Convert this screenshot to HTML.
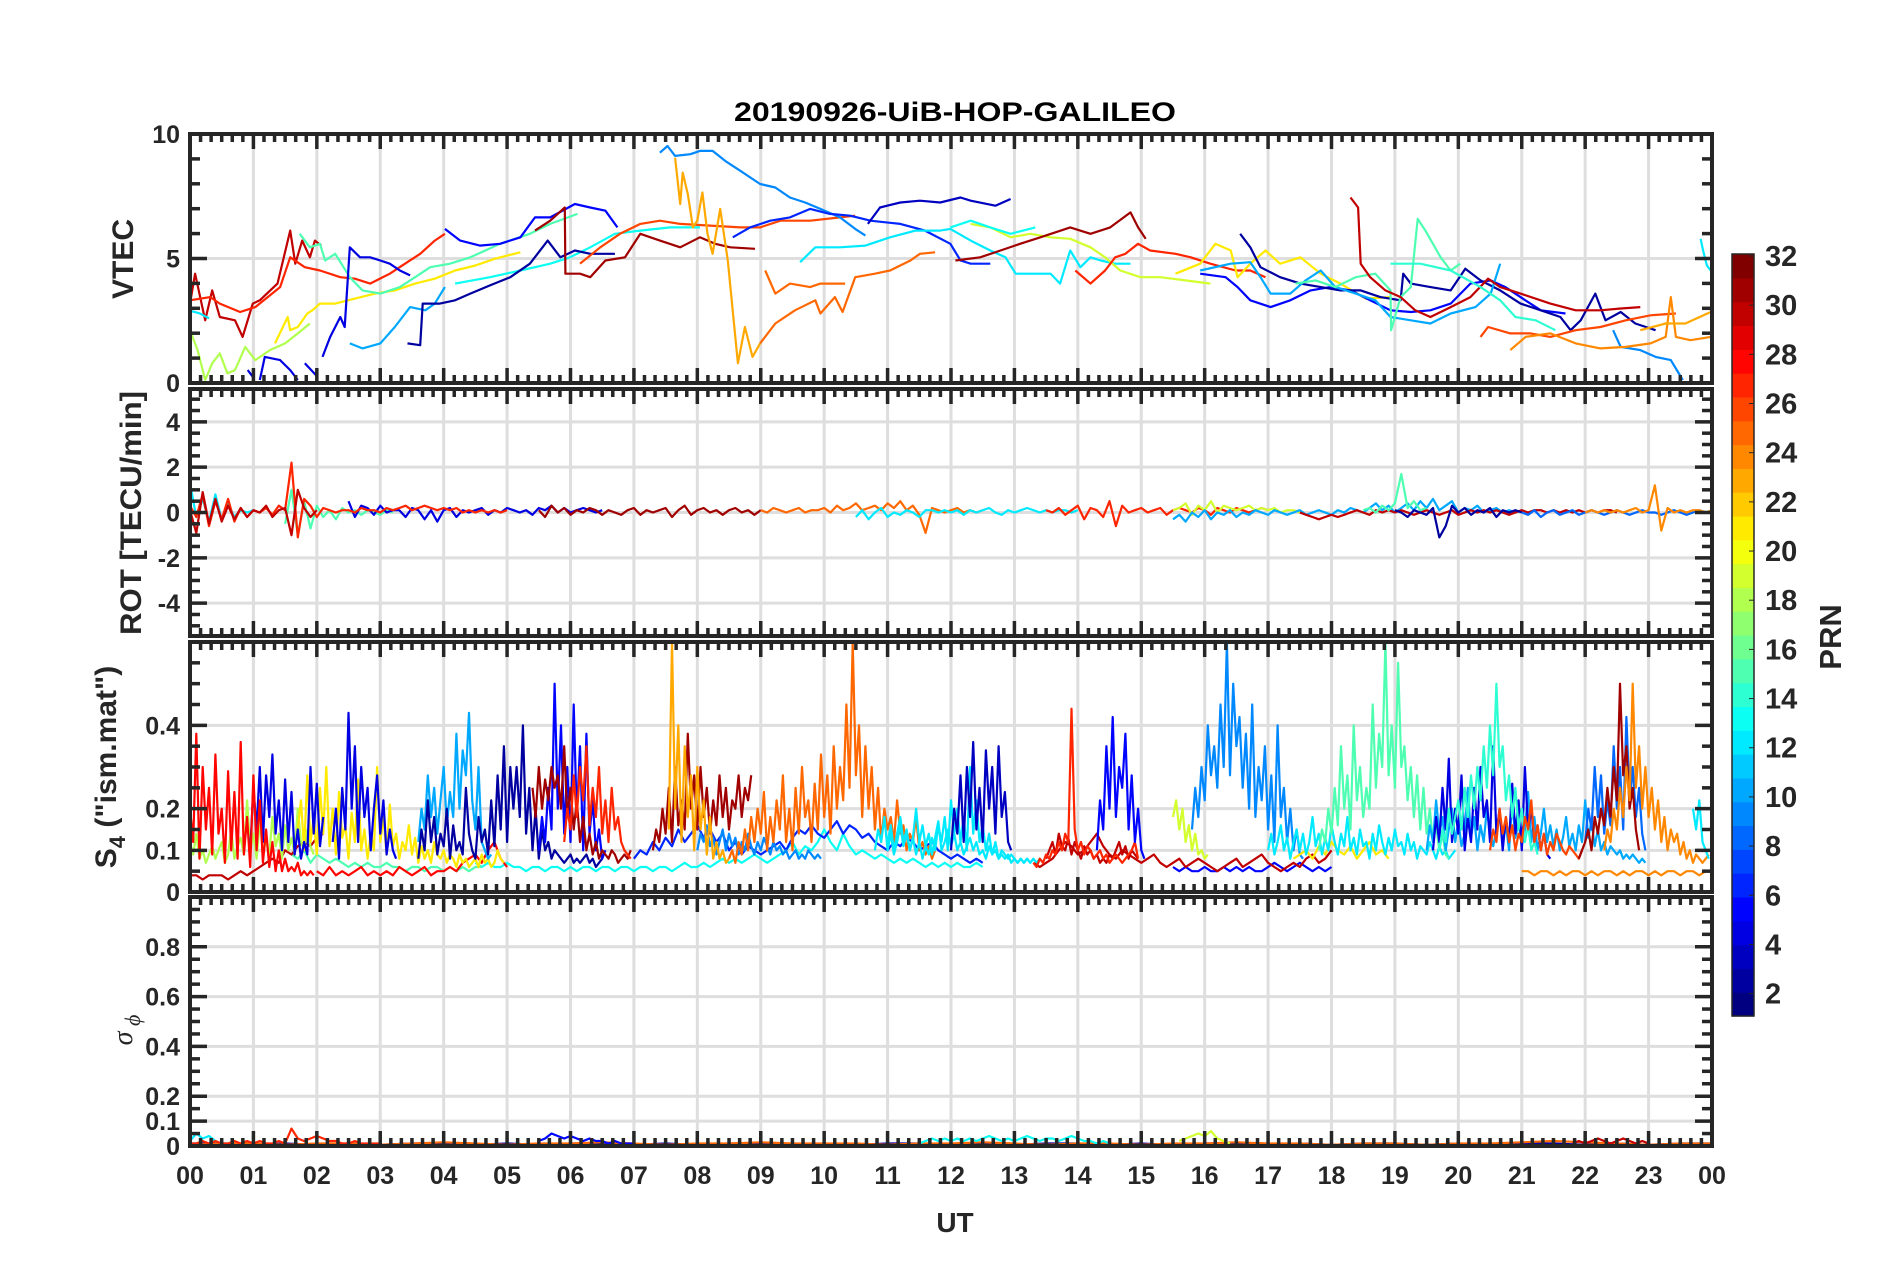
<!DOCTYPE html>
<html><head><meta charset="utf-8"><title>20190926-UiB-HOP-GALILEO</title>
<style>
html,body{margin:0;padding:0;background:#fff;}
svg{display:block;font-family:"Liberation Sans",Arial,sans-serif;}
</style></head>
<body>
<svg id="fig" width="1902" height="1272" viewBox="0 0 1902 1272" xmlns="http://www.w3.org/2000/svg">
<rect x="0" y="0" width="1902" height="1272" fill="#fff"/>
<text x="955" y="121" text-anchor="middle" font-size="27" font-weight="bold" fill="#000" textLength="442" lengthAdjust="spacingAndGlyphs">20190926-UiB-HOP-GALILEO</text>
<g id="panels"></g>
<text transform="translate(133,259) rotate(-90)" text-anchor="middle" font-size="30" font-weight="bold" fill="#262626">VTEC</text>
<text transform="translate(141,513) rotate(-90)" text-anchor="middle" font-size="30" font-weight="bold" fill="#262626" textLength="244" lengthAdjust="spacingAndGlyphs">ROT [TECU/min]</text>
<text transform="translate(116,767) rotate(-90)" text-anchor="middle" font-size="30" font-weight="bold" fill="#262626">S<tspan font-size="22" dy="9">4</tspan><tspan dy="-9"> ("ism.mat")</tspan></text>
<text transform="translate(132,1030) rotate(-90)" text-anchor="middle" font-size="28" font-style="italic" font-family="Liberation Serif, serif" fill="#262626">σ<tspan font-size="22" dy="8"> ϕ</tspan></text>
<text x="955" y="1232" text-anchor="middle" font-size="28" font-weight="bold" fill="#262626">UT</text>
<g id="colorbar"></g>
<text transform="translate(1841,637) rotate(-90)" text-anchor="middle" font-size="31" font-weight="bold" fill="#262626">PRN</text>
</svg>
<script>
// ---------- VTEC tracks (hours, TECU) ----------
const tec30aT=[0,.08,.24,.35,.47,.71,.83,.99,1.10,1.38,1.58,1.66,1.77,1.89,1.97,2.07];
const tec30aV=[3.19,4.39,2.52,3.72,2.65,2.52,1.85,3.19,3.32,3.99,6.12,4.79,5.72,5.05,5.72,5.52];
const tec27aT=[0,.32,.47,.79,1.03,1.42,1.58,1.81,2.05,2.37,2.60,2.84,3.15,3.39,3.63,3.86,4.02];
const tec27aV=[3.32,3.45,3.19,2.85,3.05,3.85,5.05,4.65,4.52,4.25,4.19,3.99,4.39,4.79,5.19,5.72,5.99];
const tec12aT=[0,.15,.3];
const tec12aV=[2.9,2.8,2.6];
const tec18T=[0,.12,.24,.35,.47,.59,.71,.87,1.03,1.26,1.5,1.70,1.89];
const tec18V=[2.12,1.32,.12,.79,1.19,.39,.52,1.45,.92,1.32,1.59,1.99,2.39];
const tec21aT=[1.34,1.54,1.58,1.70,1.85,1.93,2.05,2.29,2.60,2.92,3.23,3.55,3.86,4.18,4.50,4.81,5.21];
const tec21aV=[1.59,2.65,2.12,2.25,2.79,2.92,3.19,3.19,3.39,3.59,3.72,3.99,4.19,4.52,4.72,4.99,5.25];
const tec15aT=[1.73,1.89,2.05,2.13,2.29,2.52,2.72,3.00,3.31,3.55,3.79,4.10,4.42,4.89,5.36,5.68,6.11];
const tec15aV=[5.99,5.45,5.59,4.92,5.19,4.25,3.72,3.59,3.85,4.25,4.65,4.79,5.05,5.59,5.99,6.39,6.79];
const tec4T=[.91,.99,1.0,1.10,1.18,1.42,1.58,1.70,1.75,1.81,2.01,2.05,2.09,2.21,2.37,2.44,2.52,2.68,2.84,3.00,3.15,3.31,3.47];
const tec4V=[.52,.25,null,.12,1.05,.92,.52,.12,null,.79,.25,null,1.05,1.85,2.65,2.25,5.45,5.05,5.05,4.92,4.79,4.52,4.32];
const tec5aT=[4.02,4.26,4.57,4.89,5.21,5.44,5.68,6.07,6.31,6.55,6.74];
const tec5aV=[6.19,5.72,5.52,5.59,5.85,6.65,6.65,7.19,7.05,6.92,6.25];
const tec10aT=[2.52,2.72,3.00,3.23,3.47,3.71,3.86,4.02];
const tec10aV=[1.59,1.39,1.59,2.25,3.05,2.92,3.19,3.85];
const tec13aT=[4.18,4.73,5.21,5.68,5.99,6.31,6.70,7.10,7.57,8.04];
const tec13aV=[3.99,4.25,4.52,4.79,5.05,5.45,5.99,6.12,6.25,6.25];
const tec2aT=[3.43,3.63,3.67,3.94,4.18,4.42,4.73,5.05,5.36,5.64,5.84,6.07,6.31,6.70];
const tec2aV=[1.59,1.52,3.19,3.19,3.32,3.59,3.92,4.25,4.79,5.72,5.05,5.32,5.19,5.19];
const tec31aT=[5.44,5.68,5.91,5.92,6.15,6.31,6.55,6.86,7.10,7.41,7.73,8.04,8.28,8.52,8.91];
const tec31aV=[6.12,6.52,7.05,4.39,4.39,4.25,4.92,5.05,5.99,5.72,5.45,5.85,5.59,5.45,5.39];
const tec26aT=[6.15,6.47,6.78,7.10,7.41,7.73,8.20,8.68,8.99,9.31,9.78,10.25,10.49];
const tec26aV=[4.79,5.45,5.99,6.39,6.52,6.39,6.32,6.25,6.25,6.52,6.52,6.65,6.72];
const tec9aT=[7.41,7.53,7.65,7.89,8.04,8.24,8.44,8.68,8.99,9.23,9.46,9.70,9.94,10.25,10.49,10.65];
const tec9aV=[9.25,9.52,9.12,9.19,9.32,9.32,8.92,8.52,7.99,7.85,7.45,7.25,6.99,6.65,6.19,5.92];
const tec9bT=[22.44,22.56,22.87,23.11,23.35,23.54];
const tec9bV=[2.12,1.45,1.32,1.05,.92,.12];
const tec23aT=[7.65,7.73,7.77,7.85,7.93,8.00,8.08,8.16,8.24,8.36,8.48,8.64,8.75,8.87,8.99];
const tec23aV=[9.05,7.19,8.45,7.59,6.25,6.52,7.65,5.99,5.19,6.99,4.92,.79,2.25,1.05,1.59];
const tec25aT=[9.07,9.23,9.46,9.78,9.94,10.33];
const tec25aV=[4.52,3.59,3.99,3.85,3.99,3.99];
const tec25bT=[8.99,9.23,9.54,9.86,9.94,10.17,10.29,10.49,10.80,11.04,11.36,11.51,11.75];
const tec25bV=[1.59,2.39,2.92,3.32,2.79,3.45,2.85,4.25,4.39,4.52,4.92,5.19,5.25];
const tec6T=[8.56,8.83,9.15,9.46,9.78,10.09,10.41,10.73,11.20,11.59,11.99,12.15,12.31,12.62];
const tec6V=[5.85,6.25,6.52,6.65,6.99,6.79,6.72,6.52,6.39,6.12,5.59,4.92,4.79,4.79];
const tec3T=[10.69,10.88,11.20,11.51,11.83,12.15,12.31,12.70,12.94];
const tec3V=[6.39,7.05,7.25,7.32,7.25,7.45,7.32,7.12,7.39];
const tec12bT=[9.62,9.86,10.25,10.65,11.04,11.44,11.83,11.99,12.31,12.62,12.86,13.02,13.25,13.57,13.72,13.88,14.04,14.20,14.36,14.59,14.83];
const tec12bV=[4.85,5.45,5.45,5.52,5.85,6.12,6.12,6.19,5.72,5.32,5.05,4.39,4.39,4.39,3.99,5.32,4.65,5.05,4.92,4.79,4.79];
const tec12cT=[23.82,23.86,23.92,23.98];
const tec12cV=[5.79,5.32,4.72,4.52];
const tec19T=[12.31,12.62,12.94,13.25,13.57,13.88,14.20,14.43,14.67,14.99,15.30,15.70,16.09];
const tec19V=[6.39,6.25,5.85,5.99,5.85,5.79,5.45,5.05,4.52,4.25,4.25,4.12,3.99];
const tec13bT=[11.99,12.31,12.62,12.94,13.33];
const tec13bV=[6.25,6.52,6.25,5.99,6.25];
const tec31bT=[12.07,12.46,12.78,13.09,13.41,13.88,14.20,14.51,14.83,14.95,15.07];
const tec31bV=[4.92,5.05,5.32,5.59,5.85,6.25,5.99,6.25,6.85,6.25,5.79];
const tec27bT=[13.96,14.20,14.43,14.59,14.75,14.95,15.14,15.54,15.78,16.09,16.49,16.72,16.96];
const tec27bV=[4.52,3.99,4.52,5.05,5.19,5.59,5.32,5.19,5.05,4.79,4.52,4.52,4.25];
const tec21bT=[15.54,15.93,16.17,16.41,16.52,16.72,16.96,17.19,17.51,17.83,18.14,18.54,18.93];
const tec21bV=[4.39,4.79,5.59,5.32,4.25,4.79,5.32,4.79,5.05,4.39,3.99,3.39,3.45];
const tec5bT=[15.93,16.33,16.52,16.72,17.04,17.35,17.67,17.98,18.30,18.61,18.93,19.25,19.56,19.88,20.19,20.51,20.74,20.98,21.30,21.69];
const tec5bV=[4.39,4.25,3.85,3.32,3.05,3.32,3.72,3.85,3.72,3.32,2.92,2.85,2.92,3.19,3.99,4.12,3.85,3.45,2.92,2.79];
const tec2bT=[16.56,16.72,16.88,17.19,17.51,17.83,18.14,18.46,18.77,19.09,19.13,19.25,19.56,19.88,20.11,20.35,20.66,20.98,21.30,21.61,21.77,21.93,22.16,22.32,22.56,22.79,23.11];
const tec2bV=[5.99,5.45,4.65,4.25,3.99,3.85,3.72,3.72,3.45,3.32,4.39,3.99,3.85,3.72,4.59,4.12,3.72,3.19,2.92,2.65,2.12,2.52,3.59,2.52,2.85,2.39,2.12];
const tec10bT=[15.93,16.41,16.72,16.88,17.04,17.35,17.59,17.83,18.06,18.38,18.69,18.93,19.25,19.56,19.88,20.27,20.51,20.66];
const tec10bV=[4.52,4.79,4.85,4.25,3.59,3.59,4.12,4.52,3.85,3.59,3.32,2.65,2.52,2.39,2.79,3.05,3.59,4.79];
const tec15bT=[17.43,17.75,18.06,18.38,18.69,18.93,18.94,19.09,19.25,19.36,19.48,19.72,19.88,20.03];
const tec15bV=[3.99,4.12,3.85,4.25,4.39,3.72,2.12,3.45,3.85,6.59,6.12,5.05,4.52,4.79];
const tec30bT=[18.30,18.42,18.46,18.61,18.85,19.09,19.32,19.56,19.88,20.19,20.47,20.66,20.98,21.45,21.85,22.24,22.56,22.87];
const tec30bV=[7.45,7.05,4.79,4.25,3.72,3.45,2.92,2.65,3.05,3.45,4.19,3.85,3.59,3.19,2.92,2.92,2.99,3.05];
const tec14T=[18.93,19.40,19.88,20.35,20.66,20.90,21.22,21.53];
const tec14V=[4.79,4.79,4.52,3.85,3.32,2.65,2.52,2.12];
const tec26bT=[20.35,20.47,20.82,21.14,21.45,21.85,22.24,22.64,23.03,23.43];
const tec26bV=[1.85,2.25,1.99,1.99,1.85,2.12,2.25,2.52,2.72,2.79];
const tec24T=[20.82,21.06,21.45,21.85,22.24,22.64,23.03,23.27,23.35,23.43,23.66,23.98];
const tec24V=[1.32,1.85,1.99,1.59,1.39,1.45,1.59,1.85,3.45,1.85,1.72,1.85];
const tec23bT=[22.87,23.27,23.58,23.98];
const tec23bV=[2.12,2.39,2.39,2.85];
const tecTracks=[[30,tec30aT,tec30aV],[27,tec27aT,tec27aV],[12,tec12aT,tec12aV],[18,tec18T,tec18V],[21,tec21aT,tec21aV],[15,tec15aT,tec15aV],[4,tec4T,tec4V],[5,tec5aT,tec5aV],[10,tec10aT,tec10aV],[13,tec13aT,tec13aV],[2,tec2aT,tec2aV],[31,tec31aT,tec31aV],[26,tec26aT,tec26aV],[9,tec9aT,tec9aV],[9,tec9bT,tec9bV],[23,tec23aT,tec23aV],[25,tec25aT,tec25aV],[25,tec25bT,tec25bV],[6,tec6T,tec6V],[3,tec3T,tec3V],[12,tec12bT,tec12bV],[12,tec12cT,tec12cV],[19,tec19T,tec19V],[13,tec13bT,tec13bV],[31,tec31bT,tec31bV],[27,tec27bT,tec27bV],[21,tec21bT,tec21bV],[5,tec5bT,tec5bV],[2,tec2bT,tec2bV],[10,tec10bT,tec10bV],[15,tec15bT,tec15bV],[30,tec30bT,tec30bV],[14,tec14T,tec14V],[26,tec26bT,tec26bV],[24,tec24T,tec24V],[23,tec23bT,tec23bV]];

// ---------- ROT series: [prn, start hour] step 0.1 h, values TECU/min ----------
const rot27a=[0.3,-0.2,0.8,-0.6,0.5,-0.3,0.6,-0.4,0.2,-0.2,0.1,0.0,0.2,-0.1,0.3,0.1,2.2,-1.1,0.6,0.3,-0.2,0.2,0.1,0,0.1,0.1,0,0.2,0.1,0.1,0,0.2,0.1,0.2,0.3,0.1,0.2,0.3,0.2,0.1,0.2,0.1,0.2,0,0.1,0,0.1,0,0.1,0,0.1];
const rot30a=[0.1,-0.9,0.9,-0.5,0.6,-0.4,0.3,-0.3,0.2,-0.2,0.1,0,0.3,-0.2,0.1,0.2,-1.0,1.0,0.2,-0.2,0.1];
const rot15a=[-0.5,1.0,-1.0,0.5,-0.7,0.3,-0.2,0.1,-0.3,0.2,0,0.1,-0.1,0.1,0,-0.1,0.1,0];
const rot12a=[1.3,-0.2,0.6,-0.4,0.8,-0.3,0.4,-0.2,0.1,0,0.1];
const rot4a=[0.5,-0.2,0.3,0.2,-0.1,0.3,0,0.1,0.1,-0.2,0.2,0.1,-0.3,0.1,-0.4,0.1,0.2,-0.2,0.1,0,0.1,0.2,-0.1,0.1,0,0.2,0.1,0,0.1,-0.1,0.2,0.1,0.3,0,0.2,0,0.1,0.2,0.1,0.0,0.1];
const rot31a=[0.1,-0.2,0.3,0,0.2,-0.1,0.1,0,0.2,0.1,-0.1,0.1,0,-0.1,0.1,0.2,-0.1,0.1,0,0.1,0.2,-0.2,0.1,0.3,-0.1,0.1,0.2,0,0.1,-0.1,0.1,0.2,0,0.1,-0.1,0.1];
const rot25a=[0.1,0,0.2,0.1,0,0.1,0.2,0,0.1,0.1,0.2,0,0.3,0.1,0.2,0.4,0.1,0.2,0.3,0.1,0.4,0.2,0.5,0.1,0.3,-0.1,-0.9,0.2,0.1,0,0.1,0.2,0,0.1,0,0.1];
const rot12b=[-0.2,0.1,-0.3,0,0.2,-0.2,0,-0.1,0.1,0,-0.2,0.1,0.1,0,0.1,0,0.1,-0.1,0.1,0,0.1,0.2,0,-0.1,0.1,0,0.1,0.2,0.1,0,0.1,0,0.1,0.1,0,0.1];
const rot27b=[0.1,0,0.2,-0.1,0.1,0.3,-0.3,0.2,0.1,-0.2,0.5,-0.6,0.3,0,0.1,0.2,0,0.1,0.2,-0.1,0.1,0.2,0.1,0,0.2,0.1,-0.1,0.2,0.1,0,0.2,0.1,0,0.1,0.2,0.1];
const rot19a=[0.1,0.2,0.4,-0.1,0.3,0.1,0.5,0,0.3,0.2,0.1,0.2,0.3,0.1,0.2,0.1,0.2,0,0.1,0.1,0];
const rot10a=[-0.3,-0.1,-0.4,0,-0.2,0.1,-0.3,0,-0.1,0.1,-0.2,0,-0.1,0.1,0,-0.1,0.1,0,-0.1,0,0.1,-0.1,0,0.1,0,-0.1,0.1,0,0.2,0.1,0,0.2,0.4,0.1,0.3,0,0.2,0.4,0.1,0.5,0.2,0.6,0.1,0.3,0.5,0,0.2,0.1,0.3,0,0.1,0.2,0,0.1,0,0.1];
const rot30b=[0,-0.1,-0.2,-0.3,-0.2,-0.1,-0.2,-0.1,0,0.1,0,-0.1,0.1,0,0.1,0,0.1,0,-0.1,0,0.1,0,-0.1,0,0.1,-0.1,0,0.1,0,0.1,0,0.1,0,-0.1,0,0.1,0,0.1,0.1,0,0.1,0,0.1,0,0.1,0,0.1,0,0.1,0.1,0];
const rot15b=[0.1,0.2,0,0.3,0.1,0.4,1.7,0.2,0.5,0.1,0.2];
const rot2a=[0.1,0,-0.2,0.1,0,-0.1,0.2,-1.1,-0.6,0.3,0,0.2,-0.1,0.1,0,0.2,-0.2,0.1,0,0.1,0];
const rot24a=[0,0.1,0,0.1,0,0.1,0,0.1,0.2,0,0.1,1.2,-0.8,0.2,0,0.1,0,0.1,0.1,0,0.1];
const rot8a=[0,-0.1,0.1,-0.2,0,0.1,-0.1,0,0.1,-0.1,0,0.1,0,-0.1,0,0.1,0,-0.1,0,0.1,0,0,-0.1,0,0.1,0,-0.1,0,0.1,0,0];
const rotSeries=[[12,0,rot12a],[15,1.5,rot15a],[4,2.5,rot4a],[31,5.5,rot31a],[25,9,rot25a],[12,10.5,rot12b],[27,13.5,rot27b],[19,15.5,rot19a],[10,15.5,rot10a],[30,17.5,rot30b],[15,18.5,rot15b],[2,19,rot2a],[8,21,rot8a],[24,22,rot24a],[27,0,rot27a],[30,0,rot30a]];

// ---------- S4 series: [prn, start hour, step h] values in hundredths ----------
const s4_28a=[20,12,38,8,30,15,25,9,33,14,20,7,29,10,24,8,36,9,18,6,28,10,22,7,15,6,12,5,10,5,8,5,6,5,7,4,5,4,5,4];
const s4_28b=[5,4,6,4,5,4,5,6,4,5,4,5,4,6,5,4,5,6,4,5,5,6,5,7,8,9,7,10,12,8,6];
const s4_30a=[4,4,3,4,4,4,3,4,5,4,5,6,7,8,7,10,9,11,12,11,13,14];
const s4_18a=[12,9,14,8,10,7,9,11,8,10,12,7,9,15,8,11,13,9,22,10,14,8,17,10,12,9,18,11,14,8,16,10,13,9,20,12,10,15,11,9];
const s4_4a=[10,25,15,30,12,28,18,33,14,22,10,27,12,24,9,15,8,12,9,30,14,26,11,18];
const s4_4b=[12,20,8,25,15,43,20,35,12,30,18,25,10,20,28,14,22,9,15,10,8];
const s4_21a=[15,22,10,28,12,18,9,25,14,30,11,20,9,24,13,16,8,19,12,27,10,15,8,14,10,30,12,18,9,21,11,14,8,12,10,16,9,13,7,11,8,10,7,12,9,8,10,7,9,8,6,9,7,8,6,7,8,6,9,7,8,6,7,10,8,7];
const s4_15a=[9,8,10,7,9,8,7,8,7,6,7,6,7,6,6,7,6,6,5,6,6,5,6,6,5,6,5,6,5,6,6];
const s4_2a=[8,15,10,22,12,18,9,14,11,20,8,16,10,12,9,25,14,10,8,18,12,15,9,22,11,28,15,35,12,30,20,30,18,40,14,25,10,20,8,15,10,12,8,10,9,8,7,8,9,7,8,7,8,9,7,8,6,7,8];
const s4_5a=[10,18,12,25,15,50,20,40,14,30,12,45,18,35,10,38,14,22,10,15,8,10];
const s4_10a=[12,20,15,28,18,25,14,22,30,16,24,18,38,20,34,28,43,22,15,30,12,10,8,9];
const s4_31a=[25,18,30,20,27,22,30,25,28,20,35,18,25,15,22,12,18,10,14,9,12,8,10,9,8,10,9,7,8,9,8,10];
const s4_31b=[10,15,12,20,14,25,12,30,16,22,15,38,20,28,15,30,18,25,14,22,16,28,18,25,15,22,20,28,18,25,22,28];
const s4_27a=[12,20,15,28,18,30,22,35,16,25,18,30,14,22,12,25,15,18,12,10,9,8];
const s4_13a=[7,6,7,6,6,7,6,6,5,6,6,5,6,6,5,6,5,6,6,5,6,6,5,6,6,5,6,6,5,6,6,5,6,7,6,6,7,6,7,8,7,8,7,8,9,8,7,8,9,10,12,9,11,10,12,15,12,10,14,11,9,10,9,8,9,8,7,8,7,8,7,6,7,6,7,6,7,6,6,7,6];
const s4_23a=[15,60,20,40,12,35,18,28,10,30,15,22,9,18,8,12,8,10,7,8];
const s4_25a=[8,10,7,12,9,15,10,18,12,20,14,24,10,18,12,22,15,28,12,20,10,25,14,30,18,22,12,26,15,33,18,28,14,35,20,30,22,45,25,60,28,40,18,35,20,30,15,25,12,20,15,18,12,22,14,16,10,14,12,18,10,12,9,11,8,10];
const s4_6a=[8,10,9,12,10,13,11,15,12,14,16,13,15,12,14,10,12,9,11,10,9,10,11,12,10,13,15,14,16,14,13,15,17,14,16,15,13,14,12,11,10,12,11,13,12,10,11,12,10,9,8,9,8,7,8,7];
const s4_12a=[10,15,12,18,10,14,9,12,16,11,14,10,13,9,12,8,11,9,13,10,16,12,18,10,22,14,20,12,18,10,30,14,22,12,16,10,14,9,12,8,10,9,8,9,8,7,8,7,8,7];
const s4_3a=[10,20,14,28,12,30,18,36,15,25,12,34,20,30,14,35,18,24,12,10];
const s4_27b=[7,6,8,7,9,8,10,9,12,10,14,12,44,15,10,12,9,11,10,8,9,10,8,9,7,8,9,8,7,8,9,10,12,8];
const s4_30b=[7,6,7,8,10,12,11,9,10,12,14,11,9,8,10,9,8,7,8,9,7,6,7,8,6,7,8,7,6,5,6,7,8,6,7,8,9,7,6,5,6,7,6,8,9,7,8,10];
const s4_5b=[10,22,15,35,20,42,18,30,25,38,15,28,12,20,10,8];
const s4_9a=[15,25,18,30,22,40,28,35,25,45,30,60,28,50,35,42,25,38,20,45,18,30,22,35,15,28,12,40,18,25,12,20,10,15,9,8];
const s4_19a=[18,22,15,20,12,16,10,14,9,10,8,9];
const s4_21b=[8,9,10,8,11,9,12,10,9,11,8,10,12,9,10,8];
const s4_15b=[10,15,12,20,14,25,16,35,20,28,15,40,22,30,18,25,20,45,25,38,30,60,28,40,25,55,30,35,22,30,18,28,15,25,14,20,12,16,10,14,9,8];
const s4_14a=[10,15,12,20,14,18,22,15,25,18,28,20,30,22,35,25,40,28,50,30,35,22,28,18,25,15,20,12,16,10,12,9];
const s4_4c=[10,18,12,25,15,32,12,20,14,28,10,18,12,25,15,30,18,22,12,35,14,20,10,18,12,26,14,22,10,30,15,20,12,16,10,14,9,8];
const s4_8a=[12,20,15,30,18,28,14,22,16,35,20,30,15,42,22,30,18,25,14,10];
const s4_31c=[8,10,12,15,10,18,14,20,16,25,18,30,22,50,28,35,20,25,15,10];
const s4_24a=[10,15,12,20,15,25,18,30,22,50,25,35,20,30,18,25,15,22,12,18,10,15,12,14,9,12,8,10,7,9,8,7,8,9];
const s4_24b=[5,5,4,5,5,4,5,4,5,5,4,5,4,5,5,4,5,4,5,5,4,5,4,5,5,4,5,5,4,5,5];
const s4_12b=[20,15,22,12,10,8];
const s4_5c=[6,5,6,5,5,6,5,5,6,5,6,5,6,5,5,6,7,6,5,6,7,6,5,6,5,6];
const s4_12c=[10,14,9,12,16,10,13,8,12,15,10,14,9,12,18,11,14,9,13,10,16,12,9,14,11,18,10,13,9,15,11,12,8,14,10,16,12,9,13,10,15,11,12,9,14,10,12,8,11,10,9,12,10,8,11,9,10,8,9,10];
const s4_10c=[10,16,12,22,14,18,10,15,20,12,17,11,14,25,13,18,10,16,12,20,14,11,15,19,12,16,10,22,13,17,11,15,24,12,18,10,14,20,12,16,11,15,10,13,18,11,14,10,16,12,22,13,17,11,15,10,12,9,11,10,9,10,8,9,8,9,8,7,8,7];
const s4_26a=[10,15,12,20,14,18,12,16,10,14,12,18,15,22,12,16,10,14,9,12,10,14,12,10,9,11,10,9,8,10];
const s4_12d=[12,16,10,14,18,12,15,10,13,20,12,16,11,14,9,13,17,10,12,15,11,14,10,12,9,11,13,10,12,9,10,8,11,9,10,8,9,8,9,7,8,7,8,7,8,7,8,7,8,7];
const s4_30c=[8,10,12,9,14,11,10,13,9,12,10,8,11,9,10,8,9,7,8,7,9,8,10,12,9,11,8,10,9,8];
const s4_9b=[10,14,12,16,11,13,9,12,15,10,14,11,13,9,12,10,14,11,9,12,10,13,11,9,12,10,11,9,10,8,9,10,8,9,8,10,9,8,9,8];
const s4Series=[[13,4.5,.1,s4_13a],[15,1.6,.1,s4_15a],[24,21,.1,s4_24b],[5,15.5,.1,s4_5c],[30,0,.1,s4_30a],[28,2,.1,s4_28b],[18,0,.05,s4_18a],[21,1.7,.05,s4_21a],[4,0.95,.05,s4_4a],[4,2.25,.05,s4_4b],[10,3.6,.05,s4_10a],[2,3.6,.05,s4_2a],[5,5.5,.05,s4_5a],[31,5.4,.05,s4_31a],[27,5.9,.05,s4_27a],[6,7,.1,s4_6a],[9,8,.05,s4_9b],[31,7.3,.05,s4_31b],[23,7.55,.05,s4_23a],[25,8.5,.05,s4_25a],[12,11,.05,s4_12d],[12,10.8,.05,s4_12a],[3,12,.05,s4_3a],[30,13.3,.1,s4_30b],[30,13.5,.05,s4_30c],[27,13.3,.05,s4_27b],[5,14.3,.05,s4_5b],[19,15.5,.05,s4_19a],[9,15.8,.05,s4_9a],[21,17.4,.1,s4_21b],[12,17,.05,s4_12c],[15,17.8,.05,s4_15b],[10,19.5,.05,s4_10c],[4,19.6,.05,s4_4c],[14,19.7,.05,s4_14a],[26,20.5,.05,s4_26a],[8,22,.05,s4_8a],[31,21.9,.05,s4_31c],[24,22.3,.05,s4_24a],[12,23.7,.05,s4_12b],[28,0,.05,s4_28a]];

// ---------- sigma-phi series: [prn, start hour, step h] values in hundredths ----------
const sig27a=[1,1,2,1,2,1,1,2,1,2,1,2,1,1,2,1,7,3,2,3,4,3,2,2,1,1,2,1,1,1,1];
const sig12a=[2,5,3,4,2,1,1];
const sig13a=[1,2,3,2,3,2,3,2,3,2,3,4,3,2,3,2,3,4,3,2,3,3,2,3,4,3,2,2,1,2,1];
const sig19a=[2,3,4,5,4,6,3,2,1];
const sig5a=[2,3,5,4,3,4,3,2,3,2,2,1,2,1,1,1];
const sig2base=[1,1,0.5,1,0.5,1,0.5,1,1,0.5,1,0.5,1,1,0.5,1,0.5,1,1,0.5,1,0.5,1,1,0.5,1,0.5,1,1,0.5,1,0.5,1,1,0.5,1,0.5,1,1,0.5,1,0.5,1,1,0.5,1,0.5,1,1];
const sig25base=[0.5,1,1,0.5,1,1,0.5,1,1.5,1,0.5,1,1,1.5,1,0.5,1,1,1.5,1,1,1,0.5,1,1,1.5,1,0.5,1,1,0.5,1,1,1.5,1,1,0.5,1,1,0.5,1,1,1.5,2,1.5,1,0.5,1,1];
const sig30a=[1,2,1,2,3,2,1,2,3,2,1,2,1];
const sigSeries=[[2,0,.5,sig2base],[25,0,.5,sig25base],[12,0,.1,sig12a],[5,5.5,.1,sig5a],[13,11.5,.1,sig13a],[19,15.6,.1,sig19a],[30,21.8,.1,sig30a],[27,0,.1,sig27a]];

// ---------- layout ----------
const X0=190, X1=1712;
const xh=h=>X0+h*(X1-X0)/24;
function jet(prn){
  const x=(prn-1)/31;
  const c=v=>Math.round(255*Math.max(0,Math.min(1,v)));
  return `rgb(${c(1.5-Math.abs(4*x-3))},${c(1.5-Math.abs(4*x-2))},${c(1.5-Math.abs(4*x-1))})`;
}
const NS='http://www.w3.org/2000/svg';
const root=document.getElementById('panels');
function mk(tag,attrs,parent){const e=document.createElementNS(NS,tag);for(const k in attrs)e.setAttribute(k,attrs[k]);(parent||root).appendChild(e);return e;}

const panels=[
 {key:'vtec',top:134,bot:383,min:0,max:10,major:[0,5,10],labels:['0','5','10'],grid:[5],minor:1},
 {key:'rot',top:389,bot:636,min:-5.45,max:5.45,major:[-4,-2,0,2,4],labels:['-4','-2','0','2','4'],grid:[-4,-2,0,2,4],minor:0.5},
 {key:'s4',top:642,bot:892,min:0,max:0.6,major:[0,0.1,0.2,0.4],labels:['0','0.1','0.2','0.4'],grid:[0.1,0.2,0.4],minor:0.05},
 {key:'sigma',top:897,bot:1146,min:0,max:1,major:[0,0.1,0.2,0.4,0.6,0.8],labels:['0','0.1','0.2','0.4','0.6','0.8'],grid:[0.1,0.2,0.4,0.6,0.8],minor:0.05}
];
panels.forEach(p=>{p.y=v=>p.bot-(v-p.min)/(p.max-p.min)*(p.bot-p.top);});

function pathFrom(ts,vs,p){
  let d='',pen=false;
  for(let i=0;i<ts.length;i++){
    const v=vs[i];
    if(v===null||v===undefined){pen=false;continue;}
    d+=(pen?'L':'M')+xh(ts[i]).toFixed(1)+' '+p.y(v).toFixed(1);pen=true;
  }
  return d;
}

panels.forEach((p,pi)=>{
  const g=mk('g',{});
  
  
  const cp=mk('clipPath',{id:'clip'+pi},g);
  mk('rect',{x:X0,y:p.top,width:X1-X0,height:p.bot-p.top},cp);
  for(let h=1;h<24;h++){
    const l=mk('line',{x1:xh(h),x2:xh(h),y1:p.top,y2:p.bot,stroke:'#dedede','stroke-width':3},g);
    
    
  }
  p.grid.forEach(v=>{
    const l=mk('line',{x1:X0,x2:X1,y1:p.y(v),y2:p.y(v),stroke:'#dedede','stroke-width':3},g);
    
    
  });
  const sg=mk('g',{'clip-path':`url(#clip${pi})`,fill:'none','stroke-width':2.2,'stroke-linejoin':'round'},g);
  
  
  if(p.key==='vtec'){
    tecTracks.forEach(tr=>{
      const e=mk('path',{d:pathFrom(tr[1],tr[2],p),stroke:jet(tr[0])},sg);
      
      
    });
  } else {
    let list,scale;
    if(p.key==='rot'){list=rotSeries.map(s=>[s[0],s[1],0.1,s[2]]);scale=1;}
    else if(p.key==='s4'){list=s4Series;scale=0.01;}
    else {list=sigSeries;scale=0.01;}
    list.forEach(s=>{
      const ts=s[3].map((_,i)=>s[1]+i*s[2]);
      const vs=s[3].map(v=>v*scale);
      const e=mk('path',{d:pathFrom(ts,vs,p),stroke:jet(s[0]),'stroke-width':2.2},sg);
      
      
    });
  }
  const tk=mk('g',{stroke:'#262626','stroke-width':3.5},g);
  
  
  for(let m=0;m<=24*6;m++){
    const x=xh(m/6), L=(m%6===0)?15:8;
    mk('line',{x1:x,x2:x,y1:p.top,y2:p.top+L},tk);
    mk('line',{x1:x,x2:x,y1:p.bot,y2:p.bot-L},tk);
  }
  const nMin=Math.round((p.max-p.min)/p.minor)+2;
  const start=Math.ceil(p.min/p.minor)*p.minor;
  for(let k=0;k<nMin;k++){
    const v=start+k*p.minor; if(v>p.max+1e-9)break;
    const isMaj=p.major.some(m=>Math.abs(m-v)<1e-6)||(p.key==='vtec'&&Math.abs(v-10)<1e-6);
    const L=isMaj?17:10, y=p.y(v);
    mk('line',{x1:X0,x2:X0+L,y1:y,y2:y},tk);
    mk('line',{x1:X1,x2:X1-L,y1:y,y2:y},tk);
  }
  mk('rect',{x:X0,y:p.top,width:X1-X0,height:p.bot-p.top,fill:'none',stroke:'#262626','stroke-width':4},g);
  p.major.forEach((v,i)=>{
    const t=mk('text',{x:180,y:p.y(v)+9,'text-anchor':'end','font-size':25,'font-weight':'bold',fill:'#262626'},g);
    t.textContent=p.labels[i];
    
    
  });
});
const xLabels=['00','01','02','03','04','05','06','07','08','09','10','11','12','13','14','15','16','17','18','19','20','21','22','23','00'];
xLabels.forEach((s,h)=>{
  const t=mk('text',{x:xh(h),y:1184,'text-anchor':'middle','font-size':25,'font-weight':'bold',fill:'#262626'});
  t.textContent=s;
  
  
});
const cb=document.getElementById('colorbar');
const CB0=1016, CB1=254, cbX=1732, cbW=22;
const band=(CB0-CB1)/32;
for(let i=1;i<=32;i++){
  const r=mk('rect',{x:cbX,y:CB0-i*band,width:cbW,height:band+0.6,fill:jet(i)},cb);
  
  
}
mk('rect',{x:cbX,y:CB1,width:cbW,height:CB0-CB1,fill:'none',stroke:'#262626','stroke-width':1.5},cb);
const cbTicks=[2,4,6,8,10,12,14,16,18,20,22,24,26,28,30,32];
cbTicks.forEach(v=>{
  const y=CB1+(32-v)*((993.6-256)/30)+2;
  mk('line',{x1:cbX+cbW-5,x2:cbX+cbW,y1:y,y2:y,stroke:'#262626','stroke-width':1},cb);
  const t=mk('text',{x:1765,y:y+10,'font-size':29,'font-weight':'bold',fill:'#262626'},cb);
  t.textContent=String(v);
  
  
});
</script>
</body></html>
